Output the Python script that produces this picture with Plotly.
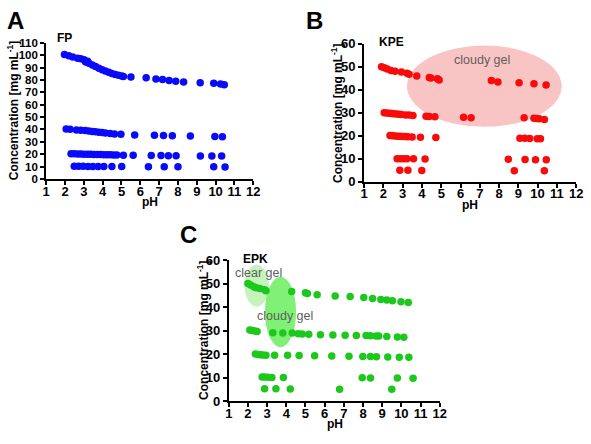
import plotly.graph_objects as go

# ---------------- data ----------------
# Panel A: FP
fp_100_ph = [1.97, 2.2, 2.41, 2.67, 2.84, 3.01, 3.1, 3.2, 3.27, 3.45, 3.62, 3.8, 3.97, 4.14, 4.32, 4.49, 4.66, 4.84, 5.01, 5.1, 5.5, 6.31, 6.83, 7.18, 7.53, 7.88, 8.3, 9.18, 9.9, 10.26, 10.46]
fp_100_c = [100.5, 99.5, 98.5, 97.5, 97, 96.3, 94.5, 95, 93.5, 92, 90.8, 89.5, 88.3, 87.2, 86.2, 85.2, 84.3, 83.8, 83.2, 82.8, 82.3, 81.8, 80.8, 80.3, 79.5, 79, 78.4, 77.8, 77.3, 76.7, 76.1]
fp_40_ph = [2.06, 2.27, 2.61, 2.84, 3.07, 3.27, 3.45, 3.62, 3.8, 3.97, 4.14, 4.4, 4.63, 4.97, 5.7, 6.75, 7.23, 7.7, 8.66, 9.96, 10.36]
fp_40_c = [40.4, 40.1, 39.6, 39.4, 39.1, 38.8, 38.4, 38.1, 37.8, 37.5, 37.2, 36.8, 36.4, 36.1, 35.6, 35.3, 35.1, 35, 34.7, 34.3, 34.1]
fp_20_ph = [2.32, 2.49, 2.67, 2.84, 3.01, 3.19, 3.36, 3.53, 3.71, 3.88, 4.06, 4.23, 4.4, 4.58, 4.75, 5.1, 5.62, 6.58, 7.1, 7.49, 7.9, 9.19, 9.8, 10.32]
fp_20_c = [20.4, 20.3, 20.2, 20.1, 20, 20, 19.9, 19.8, 19.8, 19.7, 19.6, 19.6, 19.5, 19.4, 19.3, 19.2, 19.1, 19, 18.9, 18.8, 18.8, 18.6, 18.6, 18.5]
fp_10_ph = [2.49, 2.72, 2.96, 3.22, 3.48, 3.76, 4.06, 4.49, 5.01, 6.43, 7.27, 8.0, 9.9, 10.5]
fp_10_c = [10.2, 10.2, 10.2, 10.1, 10.1, 10.1, 10.1, 10, 10, 9.9, 9.9, 9.8, 9.8, 9.7]

# Panel B: KPE
kpe_50_ph = [1.9, 2.04, 2.2, 2.39, 2.6, 2.93, 3.22, 3.33, 3.73, 4.38, 4.46, 4.8, 4.89, 7.6, 7.94, 9.04, 9.81, 10.44]
kpe_50_c = [50, 49.6, 49, 48.4, 48, 47.7, 47.2, 46.7, 46, 45.3, 45.1, 44.8, 44.2, 44, 43.4, 43, 42.6, 42.1]
kpe_30_ph = [2.04, 2.17, 2.31, 2.43, 2.54, 2.68, 2.82, 2.93, 3.15, 3.33, 3.53, 4.21, 4.38, 4.67, 6.16, 6.55, 9.3, 9.81, 9.95, 10.08, 10.35]
kpe_30_c = [30, 29.9, 29.8, 29.7, 29.6, 29.5, 29.4, 29.3, 29.1, 29, 28.8, 28.5, 28.4, 28.3, 28.1, 27.9, 27.8, 27.6, 27.5, 27.4, 27.1]
kpe_20_ph = [2.34, 2.48, 2.61, 2.75, 2.88, 3.02, 3.15, 3.27, 3.49, 3.92, 4.72, 9.08, 9.33, 9.59, 9.98, 10.15]
kpe_20_c = [20.1, 20, 19.9, 19.8, 19.8, 19.7, 19.7, 19.6, 19.5, 19.4, 19.3, 18.9, 18.9, 18.8, 18.7, 18.7]
kpe_10_ph = [2.71, 2.88, 3.05, 3.22, 3.56, 4.16, 8.48, 9.35, 9.89, 10.45]
kpe_10_c = [10.1, 10.1, 10.1, 10, 10, 9.9, 9.8, 9.7, 9.6, 9.6]
kpe_5_ph = [2.85, 3.27, 3.99, 8.79, 10.35]
kpe_5_c = [5, 5, 4.9, 4.8, 4.8]

# Panel C: EPK
epk_50_ph = [2.0, 2.14, 2.31, 2.43, 2.62, 2.87, 2.94, 4.28, 5.0, 5.1, 5.61, 6.55, 7.33, 8.04, 8.5, 8.93, 9.24, 9.53, 9.98, 10.36]
epk_50_c = [50.1, 49.4, 48.7, 48.3, 47.9, 47.4, 47, 46.7, 46.1, 45.8, 45.3, 44.8, 44.5, 44.1, 43.7, 43.3, 43, 42.7, 42.3, 42]
epk_30_ph = [2.1, 2.22, 2.36, 2.48, 3.3, 3.82, 4.31, 4.62, 4.83, 5.17, 5.78, 6.43, 7.07, 7.65, 8.16, 8.39, 8.68, 8.82, 9.24, 9.79, 10.13]
epk_30_c = [30.3, 30.1, 29.9, 29.6, 29.1, 29, 29, 28.7, 28.6, 28.5, 28.3, 28.2, 28.1, 28, 27.9, 27.8, 27.7, 27.7, 27.5, 27.3, 27.2]
epk_20_ph = [2.39, 2.53, 2.65, 2.77, 2.94, 3.39, 4.07, 4.67, 5.48, 6.37, 7.27, 7.99, 8.39, 8.7, 9.29, 9.89, 10.39]
epk_20_c = [20.1, 19.9, 19.8, 19.7, 19.6, 19.5, 19.5, 19.4, 19.3, 19.2, 19.1, 19, 19, 18.9, 18.8, 18.7, 18.7]
epk_10_ph = [2.74, 2.87, 3.04, 3.25, 3.85, 7.96, 8.39, 9.79, 10.61]
epk_10_c = [10.3, 10.3, 10.2, 10.1, 10.1, 10, 9.9, 9.9, 9.8]
epk_5_ph = [2.87, 3.46, 4.21, 6.78, 9.5]
epk_5_c = [5.3, 5.3, 5.2, 5.1, 5.1]

x_ticks = list(range(1, 13))
a_y_ticks = list(range(0, 111, 10))
bc_y_ticks = list(range(0, 61, 10))

# ---------------- figure ----------------
W, H = 591, 444
FONT = "Arial, Liberation Sans, sans-serif"
BLUE = "rgb(10,10,250)"
RED = "rgb(250,10,10)"
GREEN = "rgb(28,200,28)"

fig = go.Figure()

def add_series(xs, ys, color, xa, ya):
    fig.add_trace(go.Scatter(x=xs, y=ys, mode="markers", xaxis=xa, yaxis=ya,
                             marker=dict(color=color, size=7.5, line=dict(width=0)),
                             showlegend=False, hoverinfo="x+y"))

for xs, ys in [(fp_100_ph, fp_100_c), (fp_40_ph, fp_40_c), (fp_20_ph, fp_20_c), (fp_10_ph, fp_10_c)]:
    add_series(xs, ys, BLUE, "x", "y")
for xs, ys in [(kpe_50_ph, kpe_50_c), (kpe_30_ph, kpe_30_c), (kpe_20_ph, kpe_20_c), (kpe_10_ph, kpe_10_c), (kpe_5_ph, kpe_5_c)]:
    add_series(xs, ys, RED, "x2", "y2")
for xs, ys in [(epk_50_ph, epk_50_c), (epk_30_ph, epk_30_c), (epk_20_ph, epk_20_c), (epk_10_ph, epk_10_c), (epk_5_ph, epk_5_c)]:
    add_series(xs, ys, GREEN, "x3", "y3")

def px_x(p):
    return p / W

def px_y(p):
    return 1 - p / H

def bold_labels(vals):
    return [f"<b>{v}</b>" for v in vals]

axis_common = dict(showline=True, linewidth=2, linecolor="black", ticks="outside",
                   ticklen=4, tickwidth=2, tickcolor="black", showgrid=False,
                   zeroline=False, mirror=False)
bigfont = dict(family=FONT, size=13, color="black")
smallfont = dict(family=FONT, size=11.5, color="black")

# panel geometry (pixels)
A = dict(x0=43, x1=254, y0=178, y1=37)
B = dict(x0=367, x1=583, y0=181, y1=38)
C = dict(x0=229, x1=444, y0=408, y1=262)

def xax(P, anchor):
    return dict(domain=[px_x(P["x0"]), px_x(P["x1"])], range=[1, 12], tickvals=x_ticks,
                ticktext=bold_labels(x_ticks), tickfont=bigfont, anchor=anchor,
                ticklabelstandoff=-5, **axis_common)

def yax(P, rng, ticks, font, anchor):
    return dict(domain=[px_y(P["y0"]), px_y(P["y1"])], range=rng, tickvals=ticks,
                ticktext=bold_labels(ticks), tickfont=font, anchor=anchor, **axis_common)

fig.update_layout(
    width=W, height=H, margin=dict(l=0, r=0, t=0, b=0),
    paper_bgcolor="white", plot_bgcolor="rgba(0,0,0,0)",
    xaxis=xax(A, "y"), yaxis=yax(A, [0, 110], a_y_ticks, smallfont, "x"),
    xaxis2=xax(B, "y2"), yaxis2=yax(B, [0, 60], bc_y_ticks, bigfont, "x2"),
    xaxis3=xax(C, "y3"), yaxis3=yax(C, [0, 60], bc_y_ticks, bigfont, "x3"),
)

# gel regions
fig.add_shape(type="circle", xref="x2", yref="y2", x0=3.22, x1=11.25, y0=23.9, y1=59.2,
              fillcolor="rgb(249,196,196)", line=dict(width=0), layer="below")
fig.add_shape(type="circle", xref="x3", yref="y3", x0=1.82, x1=3.1, y0=40.3, y1=58,
              fillcolor="rgb(198,242,188)", line=dict(width=0), layer="below")
fig.add_shape(type="circle", xref="x3", yref="y3", x0=2.89, x1=4.51, y0=23, y1=52.9,
              fillcolor="rgb(128,240,118)", line=dict(width=0), layer="below")

GRAY = "rgb(95,95,95)"
ann = []
def text(x, y, s, xref, yref, size, color="black", bold=True, angle=0):
    ann.append(dict(x=x, y=y, xref=xref, yref=yref, text=(f"<b>{s}</b>" if bold else s),
                    showarrow=False, textangle=angle, xanchor="center", yanchor="middle",
                    font=dict(family=FONT, size=size, color=color)))

# panel letters
text(px_x(12), px_y(14), "A", "paper", "paper", 24)
text(px_x(316), px_y(14), "B", "paper", "paper", 24)
text(px_x(188), px_y(235), "C", "paper", "paper", 24)
# sample names
text(px_x(62), px_y(32), "FP", "paper", "paper", 12)
text(px_x(395), px_y(36), "KPE", "paper", "paper", 12)
text(px_x(256), px_y(261), "EPK", "paper", "paper", 12)
# gel labels
text(7.11, 52.9, "cloudy gel", "x2", "y2", 12.5, GRAY, bold=False)
text(2.53, 54.7, "clear gel", "x3", "y3", 12.5, GRAY, bold=False)
text(3.92, 36.2, "cloudy gel", "x3", "y3", 12.5, GRAY, bold=False)
# axis titles
ytitle = "Concentration [mg mL<sup>-1</sup>]"
text(px_x(10), px_y(107), ytitle, "paper", "paper", 12, angle=-90)
text(px_x(340), px_y(110), ytitle, "paper", "paper", 12, angle=-90)
text(px_x(202), px_y(335), ytitle, "paper", "paper", 12, angle=-90)
text(px_x(149), px_y(202), "pH", "paper", "paper", 12)
text(px_x(475), px_y(205), "pH", "paper", "paper", 12)
text(px_x(337), px_y(432), "pH", "paper", "paper", 12)

fig.update_layout(annotations=ann)

fig.write_html("out.html", config={"displayModeBar": False},
               post_script="document.body.style.margin='0';")
